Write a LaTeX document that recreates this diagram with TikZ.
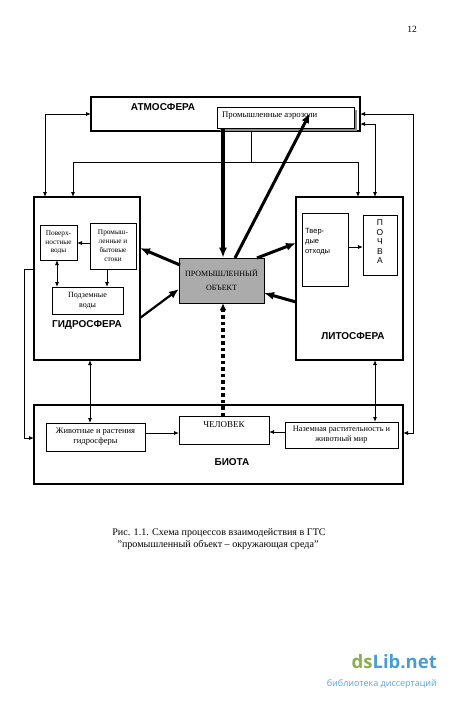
\documentclass[tikz,border=0pt]{standalone}
\usepackage{fontspec}
\setmainfont{Liberation Serif}
\newfontfamily\sansf{Liberation Sans}
\newfontfamily\wmfont{Open Sans}
\usetikzlibrary{arrows.meta,calc}
\definecolor{wmgreen}{HTML}{8AAE4A}
\definecolor{wmblue}{HTML}{4A9CD2}
\definecolor{wmlight}{HTML}{5AA5D5}
\begin{document}
\begin{tikzpicture}[x=1pt,y=-1pt,
  bigbox/.style={draw,line width=2pt,inner sep=0pt,outer sep=0pt},
  smallbox/.style={draw,line width=0.6pt,inner sep=0pt,outer sep=0pt,fill=white},
  title/.style={font=\sansf\bfseries\fontsize{10}{12}\selectfont,inner sep=0pt},
  stext/.style={font=\fontsize{8}{9}\selectfont,align=center,inner sep=0pt},
  conn/.style={line width=0.8pt,-{Latex[length=5pt,width=4pt]}},
  conntwo/.style={line width=0.8pt,{Latex[length=5pt,width=4pt]}-{Latex[length=5pt,width=4pt]}},
  flow/.style={line width=3pt,-{Latex[length=10pt,width=8pt]}},
  dotflow/.style={line width=3.5pt,dash pattern=on 3.5pt off 3pt,-{Latex[length=7pt,width=7pt]}}
]
\useasboundingbox (0,0) rectangle (450,702);

% ---------- atmosphere
\node[bigbox,line width=2.5pt,minimum width=269pt,minimum height=34pt] (atm) at (225.5,114) {};
\node[title] (atmt) at (163,107) {АТМОСФЕРА};
\fill[black!45] (219.5,109.5) rectangle (356.5,130.5);
\node[smallbox,minimum width=137pt,minimum height=21pt] (aer) at (285.5,117.5) {};
\node[stext,anchor=west,font=\fontsize{8.7}{10}\selectfont] (aert) at (222,116) {Промышленные аэрозоли};

% ---------- hydrosphere
\node[bigbox,minimum width=106pt,minimum height=163pt] (hyd) at (87,278.5) {};
\node[smallbox,stext,minimum width=37pt,minimum height=35pt,font=\fontsize{7.3}{8.8}\selectfont] (pov) at (58.5,242.5) {Поверх-\\ностные\\воды};
\node[smallbox,stext,minimum width=46pt,minimum height=46pt,font=\fontsize{7.3}{9}\selectfont] (prs) at (113,246) {Промыш-\\ленные и\\бытовые\\стоки};
\node[smallbox,stext,minimum width=71pt,minimum height=27pt,font=\fontsize{8}{10.5}\selectfont] (pod) at (87.5,300.5) {Подземные\\воды};
\node[title] (hydt) at (87,325) {ГИДРОСФЕРА};

% ---------- lithosphere
\node[bigbox,minimum width=107pt,minimum height=163pt] (lit) at (349.5,278.5) {};
\node[smallbox,minimum width=46pt,minimum height=73pt] (tve) at (325,249.5) {};
\node[font=\sansf\fontsize{7.5}{10}\selectfont,align=left,inner sep=0pt,anchor=west] (tvet) at (305,242) {Твер-\\дые\\отходы};
\node[smallbox,minimum width=34pt,minimum height=60pt] (poc) at (380,245) {};
\node[font=\sansf\fontsize{8.5}{9.5}\selectfont,align=center,inner sep=0pt] (poct) at (380,242) {П\\О\\Ч\\В\\А};
\node[title] (litt) at (353,336) {ЛИТОСФЕРА};

% ---------- industrial object
\node[draw,line width=0.6pt,fill=black!33,minimum width=85pt,minimum height=45pt,inner sep=0pt,
      font=\fontsize{8}{14}\selectfont,align=center] (obj) at (221.5,280.5) {ПРОМЫШЛЕННЫЙ\\ОБЪЕКТ};

% ---------- biota
\node[bigbox,minimum width=369pt,minimum height=79pt] (bio) at (218.5,444.5) {};
\node[smallbox,stext,minimum width=99pt,minimum height=28pt,font=\fontsize{8.5}{10}\selectfont] (ziv) at (95.5,437) {Животные и растения\\гидросферы};
\node[smallbox,minimum width=90pt,minimum height=28pt] (che) at (224,430) {};
\node[stext,font=\fontsize{9}{10}\selectfont] (chet) at (224,425) {ЧЕЛОВЕК};
\node[smallbox,stext,minimum width=113pt,minimum height=26pt,font=\fontsize{8.3}{10}\selectfont] (naz) at (341.5,435) {Наземная растительность и\\животный мир};
\node[title] (biot) at (232,462) {БИОТА};

% ---------- helper coordinates
\coordinate (xl) at (45,0);
\coordinate (xh) at (73,0);
\coordinate (j) at (251,162);
\coordinate (xlr) at (358,0);
\coordinate (xr) at (375,0);
\coordinate (r1) at (413,114);
\coordinate (r2) at (413,433);
\coordinate (l1) at (24,269);
\coordinate (l2) at (24,438);
\coordinate (xhz) at (90,0);
\coordinate (xlz) at (375,0);
\coordinate (xpp) at (57,0);
\coordinate (xps) at (107,0);
\coordinate (yzc) at (0,433);
\coordinate (ync) at (0,432);
\coordinate (ytp) at (0,247);
\coordinate (ypp) at (0,243);
\coordinate (vx) at (223,0);

% ---------- atmosphere links
\draw[conntwo] (atm.west) -| (hyd.north -| xl);
\draw[line width=0.8pt] (atm.south -| j) -- (j);
\draw[conn] (j) -| (hyd.north -| xh);
\draw[conn] (j) -| (lit.north -| xlr);
\draw[conntwo] ([yshift=-10pt]atm.east) -| (lit.north -| xr);
\draw[conntwo] (atm.east) -- (r1) -- (r2) -- (bio.east |- r2);
\draw[conn] (hyd.west |- l1) -- (l1) -- (l2) -- (bio.west |- l2);

% ---------- vertical links to biota
\draw[conntwo] (hyd.south -| xhz) -- (ziv.north -| xhz);
\draw[conntwo] (lit.south -| xlz) -- (naz.north -| xlz);
\draw[conn] (ziv.east |- yzc) -- (che.west |- yzc);
\draw[conn] (naz.west |- ync) -- (che.east |- ync);

% ---------- inner links
\draw[conn] (prs.west |- ypp) -- (pov.east |- ypp);
\draw[conntwo] (pov.south -| xpp) -- (pod.north -| xpp);
\draw[conn] (prs.south -| xps) -- (pod.north -| xps);
\draw[conn] (tve.east |- ytp) -- (poc.west |- ytp);

% ---------- thick flows
\draw[flow,line width=3.5pt] (aer.south -| vx) -- (obj.north -| vx);
\coordinate (o1) at (235,258);
\coordinate (a1) at (310,113);
\draw[flow] (o1) -- (a1);
\coordinate (o2) at (180,265);
\coordinate (h2) at (140,248);
\draw[flow] (o2) -- (h2);
\coordinate (h3) at (140,318);
\coordinate (o3) at (179,289);
\draw[flow,line width=2.2pt] (h3) -- (o3);
\coordinate (o4) at (257,258);
\coordinate (l4) at (296,243);
\draw[flow] (o4) -- (l4);
\coordinate (l5) at (296,302);
\coordinate (o5) at (264,293);
\draw[flow] (l5) -- (o5);
\draw[dotflow] (che.north -| vx) -- (obj.south -| vx);

% ---------- caption, page number, watermark
\node[font=\fontsize{10.1}{11}\selectfont,inner sep=0pt] (cap1) at (219,533) {Рис. 1.1. Схема процессов взаимодействия в ГТС};
\node[font=\fontsize{10.1}{11}\selectfont,inner sep=0pt] (cap2) at (218,545) {"промышленный объект – окружающая среда"};
\node[font=\fontsize{9.5}{11}\selectfont,inner sep=0pt] (pg) at (412,29) {12};
\node[font=\wmfont\bfseries\fontsize{18.5}{20}\selectfont,inner sep=0pt,anchor=base east] (wm1) at (437,668) {\textcolor{wmgreen}{ds}\textcolor{wmblue}{Lib.net}};
\node[font=\wmfont\fontsize{9}{12}\selectfont,text=wmlight,inner sep=0pt,anchor=base east] (wm2) at (437,686) {библиотека диссертаций};
\end{tikzpicture}
\end{document}
